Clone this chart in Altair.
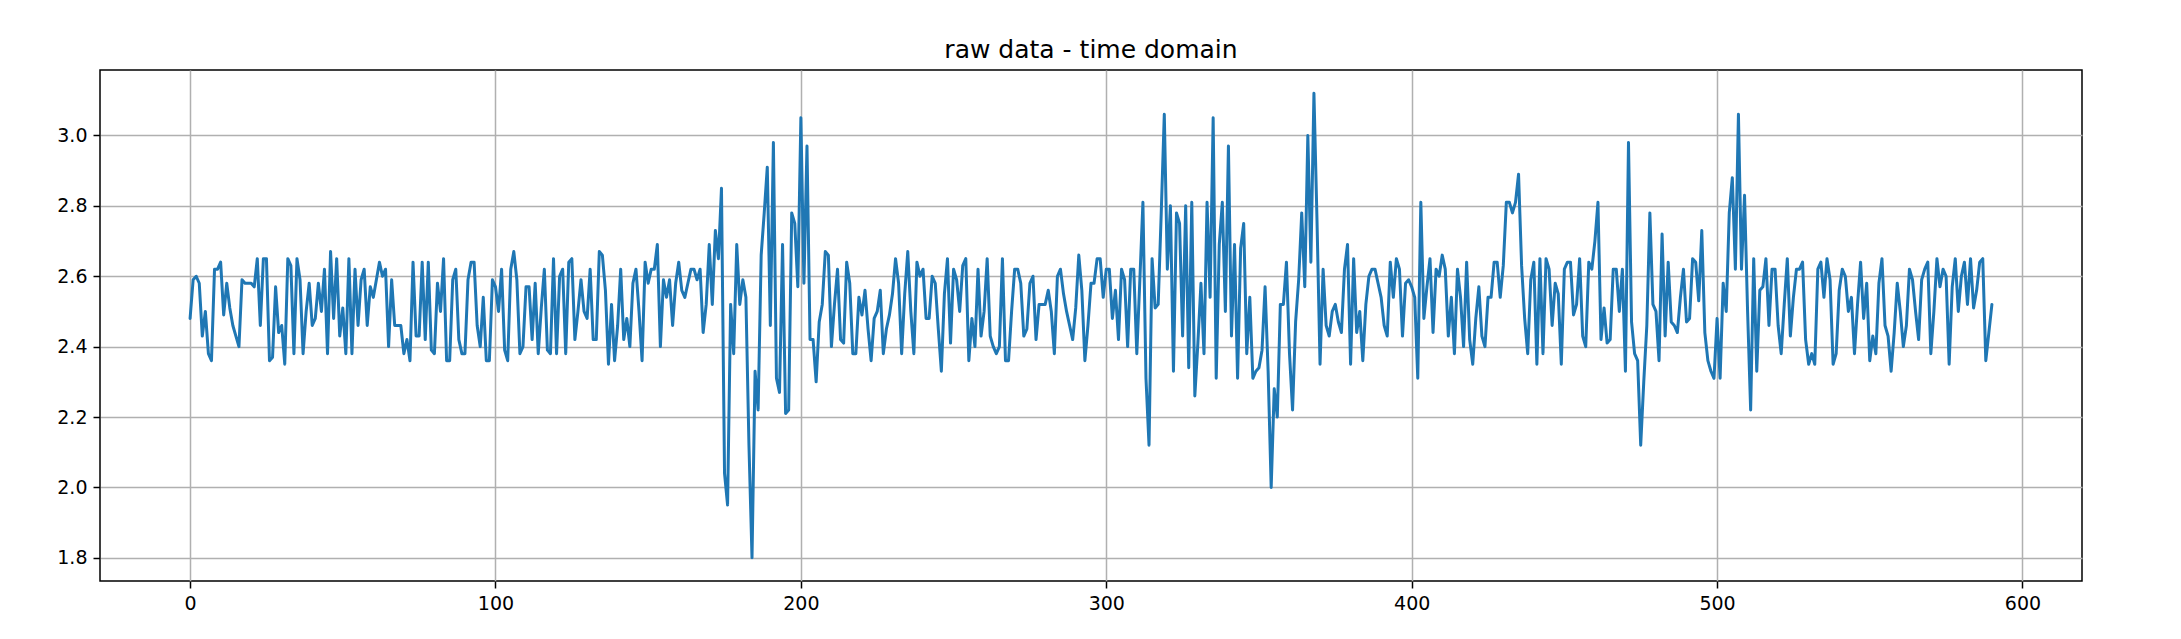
import altair as alt
import pandas as pd

# raw signal values in consecutive segments
seg_000 = [2.48, 2.59, 2.60, 2.58, 2.43, 2.50, 2.38, 2.36, 2.62, 2.62,
           2.64, 2.49, 2.58, 2.51, 2.46, 2.43, 2.40, 2.59, 2.58, 2.58,
           2.58, 2.57, 2.65, 2.46, 2.65, 2.65, 2.36, 2.37, 2.57, 2.44,
           2.46, 2.35, 2.65, 2.63, 2.38, 2.65, 2.59, 2.38, 2.50, 2.58,
           2.46, 2.48, 2.58, 2.50, 2.62, 2.38, 2.67, 2.48, 2.65]
seg_049 = [2.43, 2.51, 2.38, 2.65, 2.38, 2.62, 2.46, 2.59, 2.62, 2.46,
           2.57, 2.54, 2.59, 2.64, 2.60, 2.62, 2.40, 2.59, 2.46, 2.46,
           2.46, 2.38, 2.42, 2.36, 2.64, 2.43, 2.43, 2.64, 2.42, 2.64,
           2.39, 2.38, 2.58, 2.50, 2.65, 2.36, 2.36, 2.59, 2.62, 2.42,
           2.38, 2.38, 2.59, 2.64, 2.64, 2.46, 2.40, 2.54, 2.36, 2.36]
seg_099 = [2.59, 2.57, 2.50, 2.62, 2.39, 2.36, 2.62, 2.67, 2.59, 2.38,
           2.40, 2.57, 2.57, 2.42, 2.58, 2.38, 2.51, 2.62, 2.39, 2.38,
           2.65, 2.38, 2.60, 2.62, 2.38, 2.64, 2.65, 2.42, 2.50, 2.59,
           2.50, 2.48, 2.62, 2.42, 2.42, 2.67, 2.66, 2.56, 2.35, 2.52,
           2.36, 2.46, 2.62, 2.42, 2.48, 2.40, 2.58, 2.62, 2.50, 2.36]
seg_149 = [2.64, 2.58, 2.62, 2.62, 2.69, 2.40, 2.59, 2.54, 2.59, 2.46,
           2.58, 2.64, 2.56, 2.54, 2.58, 2.62, 2.62, 2.59, 2.62, 2.44,
           2.52, 2.69, 2.52, 2.73, 2.65, 2.85, 2.04, 1.95, 2.52, 2.38,
           2.69, 2.52, 2.59, 2.54, 2.12, 1.80, 2.33, 2.22, 2.66, 2.78,
           2.91, 2.46, 2.98, 2.31, 2.27, 2.69, 2.21, 2.22, 2.78, 2.75]
seg_199 = [2.57, 3.05, 2.58, 2.97, 2.42, 2.42, 2.30, 2.47, 2.52, 2.67,
           2.66, 2.40, 2.52, 2.62, 2.42, 2.41, 2.64, 2.58, 2.38, 2.38,
           2.54, 2.49, 2.56, 2.45, 2.36, 2.48, 2.50, 2.56, 2.38, 2.45,
           2.49, 2.55, 2.65, 2.58, 2.38, 2.55, 2.67, 2.50, 2.38, 2.64,
           2.60, 2.62, 2.48, 2.48, 2.60, 2.58, 2.45, 2.33, 2.55]
seg_248 = [2.65, 2.41, 2.62, 2.59, 2.50, 2.63, 2.65, 2.36, 2.48, 2.40,
           2.62, 2.43, 2.50, 2.65, 2.43, 2.40, 2.38, 2.40, 2.65, 2.36,
           2.36, 2.50, 2.62, 2.62, 2.58, 2.43, 2.45, 2.58, 2.60, 2.42,
           2.52, 2.52, 2.52, 2.56, 2.50, 2.38, 2.60, 2.62, 2.55, 2.50,
           2.46, 2.42, 2.51, 2.66, 2.56, 2.36, 2.46, 2.58, 2.58, 2.65]
seg_298 = [2.65, 2.54, 2.62, 2.62, 2.48, 2.56, 2.42, 2.62, 2.59, 2.40,
           2.62, 2.62, 2.38, 2.59, 2.81, 2.31, 2.12, 2.65, 2.51, 2.52,
           2.78, 3.06, 2.62, 2.80, 2.33, 2.78, 2.75, 2.43, 2.80, 2.34,
           2.81, 2.26, 2.41, 2.58, 2.38, 2.81, 2.54, 3.05, 2.31, 2.69,
           2.81, 2.50, 2.97, 2.43, 2.69, 2.31, 2.68, 2.75, 2.38, 2.54]
seg_348 = [2.31, 2.33, 2.34, 2.39, 2.57, 2.33, 2.00, 2.28, 2.20, 2.52,
           2.52, 2.64, 2.38, 2.22, 2.47, 2.59, 2.78, 2.57, 3.00, 2.64,
           3.12, 2.76, 2.35, 2.62, 2.46, 2.43, 2.50, 2.52, 2.47, 2.44,
           2.62, 2.69, 2.35, 2.65, 2.44, 2.50, 2.36, 2.52, 2.60, 2.62,
           2.62, 2.58, 2.54, 2.46, 2.43, 2.64, 2.54, 2.65, 2.62]
seg_397 = [2.43, 2.58, 2.59, 2.57, 2.54, 2.31, 2.81, 2.48, 2.57, 2.65,
           2.44, 2.62, 2.60, 2.66, 2.62, 2.43, 2.54, 2.38, 2.62, 2.54,
           2.40, 2.64, 2.42, 2.35, 2.48, 2.57, 2.43, 2.40, 2.54, 2.54,
           2.64, 2.64, 2.54, 2.63, 2.81, 2.81, 2.78, 2.81, 2.89, 2.63,
           2.48, 2.38, 2.59, 2.64, 2.35, 2.65, 2.38, 2.65, 2.62, 2.46]
seg_447 = [2.58, 2.55, 2.35, 2.62, 2.64, 2.64, 2.49, 2.52, 2.65, 2.43,
           2.40, 2.64, 2.62, 2.70, 2.81, 2.42, 2.51, 2.41, 2.42, 2.62,
           2.62, 2.50, 2.62, 2.33, 2.98, 2.47, 2.38, 2.36, 2.12, 2.30,
           2.46, 2.78, 2.52, 2.50, 2.36, 2.72, 2.43, 2.64, 2.47, 2.46,
           2.44, 2.54, 2.62, 2.47, 2.48, 2.65, 2.64, 2.53, 2.73]
seg_496 = [2.44, 2.36, 2.33, 2.31, 2.48, 2.31, 2.58, 2.50, 2.78, 2.88,
           2.62, 3.06, 2.62, 2.83, 2.50, 2.22, 2.65, 2.33, 2.56, 2.57,
           2.65, 2.46, 2.62, 2.62, 2.46, 2.38, 2.52, 2.65, 2.43, 2.54,
           2.62, 2.62, 2.64, 2.42, 2.35, 2.38, 2.35, 2.62, 2.64, 2.54,
           2.65, 2.59, 2.35, 2.38, 2.56, 2.62, 2.60, 2.50, 2.54, 2.38]
seg_546 = [2.52, 2.64, 2.48, 2.58, 2.36, 2.43, 2.38, 2.58, 2.65, 2.46,
           2.43, 2.33, 2.44, 2.58, 2.50, 2.40, 2.46, 2.62, 2.59, 2.50,
           2.42, 2.59, 2.62, 2.64, 2.38, 2.50, 2.65, 2.57, 2.62, 2.60,
           2.35, 2.57, 2.65, 2.50, 2.60, 2.64, 2.52, 2.65, 2.51, 2.56,
           2.64, 2.65, 2.36, 2.44, 2.52]

x_ticks = [0, 100, 200, 300, 400, 500, 600]
y_ticks = [1.8, 2.0, 2.2, 2.4, 2.6, 2.8, 3.0]
title_text = "raw data - time domain"

values = (seg_000 + seg_049 + seg_099 + seg_149 + seg_199 + seg_248 +
          seg_298 + seg_348 + seg_397 + seg_447 + seg_496 + seg_546)
df = pd.DataFrame({"i": list(range(len(values))), "v": values})

n = len(values) - 1
xm = n * 0.05
vmin, vmax = min(values), max(values)
ym = (vmax - vmin) * 0.05

FONT = "DejaVu Sans"

chart = (
    alt.Chart(df)
    .mark_line(color="#1f77b4", strokeWidth=3, strokeJoin="round", strokeCap="round")
    .encode(
        x=alt.X("i:Q",
                scale=alt.Scale(domain=[-xm, n + xm], nice=False, zero=False),
                axis=alt.Axis(values=x_ticks, title=None, format="d")),
        y=alt.Y("v:Q",
                scale=alt.Scale(domain=[vmin - ym, vmax + ym], nice=False, zero=False),
                axis=alt.Axis(values=y_ticks, title=None, format=".1f")),
    )
    .properties(
        width=1982,
        height=511,
        title=alt.TitleParams(title_text, fontSize=25, font=FONT, fontWeight="normal",
                              color="black", anchor="middle", offset=7),
        autosize=alt.AutoSizeParams(type="none"),
        padding={"left": 92, "top": 62, "right": 80, "bottom": 50},
    )
    .configure_view(stroke="black", strokeWidth=1.5)
    .configure_axis(
        domain=False,
        grid=True,
        gridColor="#b0b0b0",
        gridWidth=1.5,
        ticks=True,
        tickColor="black",
        tickWidth=1.5,
        tickSize=7,
        labelFont=FONT,
        labelFontSize=19,
        labelColor="black",
        labelPadding=6,
    )
)

chart.save("out.html", embed_options={"renderer": "svg", "actions": False})
